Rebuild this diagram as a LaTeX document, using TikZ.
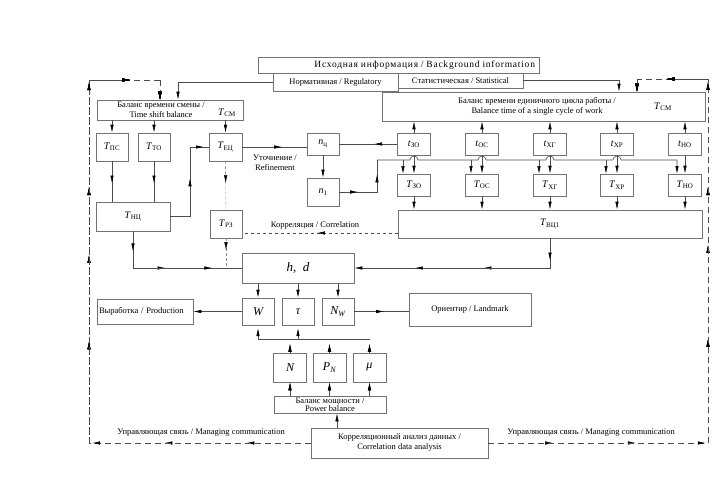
\documentclass[tikz,border=0pt]{standalone}
\usepackage{fontspec}
\setmainfont{Liberation Serif}
\newfontfamily\widefont[LetterSpace=8]{Liberation Serif}
\usetikzlibrary{arrows.meta,calc}

\newcommand{\Tl}[2]{\textit{#1}\textsubscript{#2}}
% arrow head part way along a segment
\newcommand{\tipat}[4][conn]{\draw[#1,arr] (#2) -- ($(#2)!#3!(#4)$);}

\tikzset{
  box/.style={draw=black!55, line width=0.6pt, inner sep=1pt, font=\fontsize{8.5}{10}\selectfont},
  txt/.style={inner sep=0pt, font=\fontsize{8.5}{10}\selectfont, align=center},
  sym/.style={font=\fontsize{10}{10}\selectfont},
  small/.style={box, minimum width=32pt, minimum height=28pt, font=\fontsize{10}{10}\selectfont},
  bigbox/.style={box, minimum width=32pt, minimum height=27pt, font=\fontsize{12}{12}\selectfont\itshape},
  conn/.style={draw=black!70, line width=0.6pt},
  arr/.style={-{Latex[length=8pt,width=3.4pt,color=black]}},
  ctrl/.style={conn, dash pattern=on 6pt off 4pt},
  faint/.style={draw=black!45, line width=0.4pt, densely dashed},
}

\begin{document}
\begin{tikzpicture}[x=1pt,y=-1pt]
\useasboundingbox (0,0) rectangle (721,501);

% sources
\node[box, minimum width=281pt, minimum height=16pt, text width=273pt, align=right] (info) at (398.5,65) {\fontsize{9.5}{10}\widefont Исходная информация / Background information};
\node[box, minimum width=125pt, minimum height=18pt] (norm) at (335.5,82) {Нормативная / Regulatory};
\node[box, minimum width=125pt, minimum height=15pt] (stat) at (460.5,80.5) {Статистическая / Statistical};

% balances
\node[box, minimum width=146pt, minimum height=20pt] (shift) at (170,110) {};
\node[txt] at (161,110) {Баланс времени смены /\\Time shift balance};
\node[sym] at (227,113) {\Tl{T}{СМ}};
\node[box, minimum width=323pt, minimum height=29pt] (cycle) at (543.5,106.5) {};
\node[txt] at (537,106.5) {Баланс времени единичного цикла работы /\\Balance time of a single cycle of work};
\node[sym] at (663,107) {\Tl{T}{СМ}};

% time components
\node[small] (Tps) at (112,147) {\Tl{T}{ПС}};
\node[small] (Tto) at (154,147) {\Tl{T}{ТО}};
\node[small, minimum width=33pt] (Tec) at (225.5,147) {\Tl{T}{ЕЦ}};
\node[small, minimum height=22pt] (nc) at (323,144) {\textit{n}\textsubscript{ц}};
\node[small] (n1) at (323,192) {\textit{n}\textsubscript{1}};
\foreach \nm/\x/\s in {ZO/414/ЗО, OC/482/ОС, XG/550/ХГ, XR/617/ХР, NO/685/НО} {
  \node[small, minimum width=33pt, minimum height=22pt] (t\nm) at (\x,144) {\Tl{t}{\s}};
  \node[small, minimum width=33pt, minimum height=22pt] (T\nm) at (\x,185) {\Tl{T}{\s}};
}
\node[small, minimum width=74pt, minimum height=29pt] (Tnc) at (133,216.5) {\Tl{T}{НЦ}};
\node[small] (Trz) at (226,224) {\Tl{T}{РЗ}};
\node[small, minimum width=304pt] (Tvc) at (550,224) {\Tl{T}{ВЦ1}};

% parameters
\node[box, minimum width=112pt, minimum height=30pt, font=\fontsize{13}{13}\selectfont\itshape] (hd) at (298,268) {h, \ d};
\node[bigbox] (W) at (258,311.5) {W};
\node[bigbox] (tau) at (298,311.5) {τ};
\node[bigbox] (NW) at (338,311.5) {N\textsubscript{W}};
\node[box, minimum width=96pt, minimum height=25pt, text width=92pt, align=left] (prod) at (145,311.5) {Выработка / Production};
\node[box, minimum width=122pt, minimum height=33pt] (land) at (470,309.5) {Ориентир / Landmark};
\node[bigbox, minimum width=33pt, minimum height=29pt] (N) at (290,367.5) {N};
\node[bigbox, minimum width=33pt, minimum height=29pt] (PN) at (329.5,367.5) {P\textsubscript{N}};
\node[bigbox, minimum width=33pt, minimum height=29pt] (mu) at (369.5,367.5) {μ};
\node[box, minimum width=112pt, minimum height=17pt, align=center, font=\fontsize{8.5}{8}\selectfont] (pb) at (330,404.5) {Баланс мощности /\\Power balance};
\node[box, minimum width=177pt, minimum height=30pt, align=center] (cda) at (399.5,443) {Корреляционный анализ данных /\\Correlation data analysis};

% labels
\node[txt] at (275,163) {Уточнение /\\Refinement};
\node[txt] at (315,225) {Корреляция / Correlation};
\node[txt] at (201,433) {Управляющая связь / Managing communication};
\node[txt] at (591,433) {Управляющая связь / Managing communication};

% source links
\draw[conn,arr] (norm.west) -| ([xshift=8pt]shift.north);
\draw[conn,arr] (stat.east) -| ([xshift=75.5pt]cycle.north);

% managing communication loop
\coordinate (ll) at (89,443);
\coordinate (ul) at (89,80);
\coordinate (lt) at (160,80);
\coordinate (rl) at (708,443);
\coordinate (ur) at (708,79);
\coordinate (rt) at (637,79);
\draw[ctrl] (cda.west) -- (ll) -- (ul) -- (lt);
\draw[ctrl] (cda.east) -- (rl) -- (ur) -- (rt);
\foreach \p in {0.29,0.66,0.986} \tipat[ctrl]{cda.west}{\p}{ll}
\foreach \p in {0.28,0.518,0.705,0.994} \tipat[ctrl]{ll}{\p}{ul}
\tipat[ctrl]{ul}{0.58}{lt}
\draw[ctrl,arr] (lt) -- (lt |- shift.north);
\foreach \p in {0.295,0.672,0.99} \tipat[ctrl]{cda.east}{\p}{rl}
\foreach \p in {0.286,0.544,0.703,0.992} \tipat[ctrl]{rl}{\p}{ur}
\tipat[ctrl]{ur}{0.58}{rt}
\draw[ctrl,arr] (rt) -- (rt |- cycle.north);

% shift balance
\draw[conn,arr] (shift.south -| Tps) -- (Tps.north);
\draw[conn,arr] (shift.south -| Tto) -- (Tto.north);
\draw[conn,arr] (shift.south -| Tec) -- (Tec.north);
\foreach \c in {Tps,Tto} {
  \draw[conn] (\c.south) -- (\c.south |- Tnc.north);
  \tipat{\c.south}{0.55}{\c.south |- Tnc.north}
}
\coordinate (ka) at (190,216.5);
\coordinate (kb) at (190,147);
\draw[conn] (Tnc.east) -- (ka) -- (kb) -- (Tec.west);
\tipat{ka}{0.55}{kb}
\tipat{kb}{0.75}{Tec.west}
\draw[conn] (Tec.east) -- (Tec.east -| nc.west);
\tipat{Tec.east}{0.62}{Tec.east -| nc.west}
\draw[conn] (tZO.west) -- (nc.east);
\tipat{tZO.west}{0.4}{nc.east}
\draw[conn,arr] (nc.south) -- (n1.north);

% refinement bus
\coordinate (busA) at (377,192);
\coordinate (busB) at (377,160);
\draw[conn] (n1.east) -- (busA) -- (busB);
\tipat{n1.east}{0.5}{busA}
\tipat{busA}{0.55}{busB}
\draw[conn,arr] (busB) -- (410,160) arc[start angle=180, end angle=0, radius=4pt]
  -- (478,160) arc[start angle=180, end angle=0, radius=4pt]
  -- (546,160) arc[start angle=180, end angle=0, radius=4pt]
  -- (613,160) arc[start angle=180, end angle=0, radius=4pt]
  -- (677,160) -- (677,174);
\foreach \x in {403,471,539,606}
  \draw[conn,arr] (\x,160) -- (\x,174);
\foreach \c in {ZO,OC,XG,XR,NO} {
  \draw[conn,arr] (t\c.south) -- (T\c.north);
  \draw[conn,arr] (t\c.north) -- (t\c.north |- cycle.south);
  \draw[conn,arr] (T\c.south) -- (T\c.south |- Tvc.north);
}

% to h, d
\coordinate (ra) at (550,268);
\coordinate (la) at (133,268);
\draw[conn,arr] (Tvc.south) -- (ra) -- (hd.east);
\tipat{Tvc.south}{0.75}{ra}
\tipat{ra}{0.34}{hd.east}
\tipat{ra}{0.69}{hd.east}
\draw[conn] (Tnc.south) -- (la) -- (hd.west);
\tipat{Tnc.south}{0.55}{la}
\tipat{la}{0.3}{hd.west}
\tipat{la}{0.73}{hd.west}
\draw[faint] (Tec.south) -- (Trz.north);
\tipat[faint]{Tec.south}{0.45}{Trz.north}
\draw[faint] (Trz.south) -- (Trz.south |- hd.west);
\tipat[faint]{Trz.south}{0.4}{Trz.south |- hd.west}
\coordinate (ca) at ([yshift=-9pt]Tvc.west);
\coordinate (cb) at ([yshift=-9pt]Trz.east);
\draw[conn, dashed] (ca) -- (cb);
\tipat[conn,dashed]{ca}{0.52}{cb}

% outputs
\foreach \c in {W,tau,NW}
  \draw[conn,arr] (hd.south -| \c) -- (\c.north);
\draw[conn,arr] (W.west) -- (prod.east);
\draw[conn] (NW.east) -- (NW.east -| land.west);
\tipat{NW.east}{0.55}{NW.east -| land.west}

% power
\coordinate (colY) at (0,339);
\draw[conn] (W.south |- colY) -- (mu.north |- colY);
\foreach \c in {W,tau}
  \tipat{\c.south |- colY}{0.8}{\c.south}
\foreach \c in {N,PN,mu} {
  \tipat{\c.north}{0.65}{\c.north |- colY}
  \draw[conn,arr] (pb.north -| \c) -- (\c.south);
}
\coordinate (pbin) at ([xshift=7pt]pb.south);
\draw[conn,arr] (pbin |- cda.north) -- (pbin);
\end{tikzpicture}
\end{document}
